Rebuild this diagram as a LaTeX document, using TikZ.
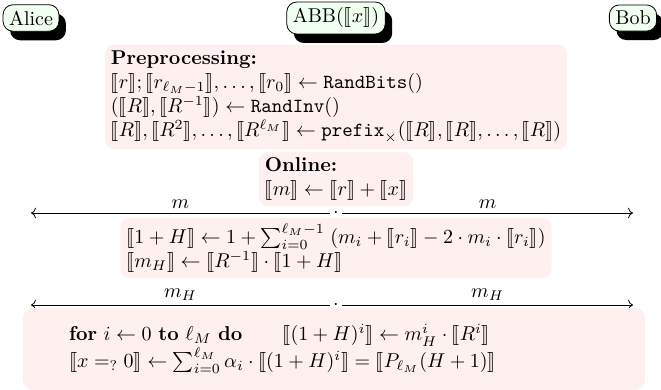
\documentclass[tikz,border=0pt]{standalone}
\usepackage{amsmath,amssymb}
\usepackage{stmaryrd}
\usetikzlibrary{arrows.meta,positioning,shadows}
\newcommand{\shr}[1]{\llbracket #1 \rrbracket}

\begin{document}
\begin{tikzpicture}[
    x=0.5pt, y=-0.5pt,
    >=To,
    party/.style={draw, rounded corners=5pt, fill=green!6, inner sep=3pt,
      drop shadow={fill=black, opacity=1, shadow xshift=3.5pt, shadow yshift=-4.5pt}},
    phase/.style={fill=red!6, rounded corners=5pt, align=left, inner sep=3pt},
    lbl/.style={above, inner sep=2pt}
]
\useasboundingbox (0,0) rectangle (661,390);
\node[party] (alice) at (31,18) {Alice};
\node[party] (abb) at (336,18) {ABB($\shr{x}$)};
\node[party] (bob) at (633,18) {Bob};
\node[phase] (pre) at (336,97) {\textbf{Preprocessing:}\\
  $\shr{r}; \shr{r_{\ell_M-1}}, \ldots, \shr{r_0} \gets \texttt{RandBits}()$\\
  $(\shr{R}, \shr{R^{-1}}) \gets \texttt{RandInv}()$\\
  $\shr{R}, \shr{R^2}, \ldots, \shr{R^{\ell_M}} \gets \texttt{prefix}_\times(\shr{R}, \shr{R}, \ldots, \shr{R})$};
\node[phase] (online) at (336,179) {\textbf{Online:}\\ $\shr{m} \gets \shr{r} + \shr{x}$};
% opening m
\node[inner sep=1.5pt] (dot1) at (336,213) {$\cdot$};
\coordinate (a1) at (dot1 -| alice);
\coordinate (b1) at (dot1 -| bob);
\draw[->] (dot1) -- node[lbl] {$m$} (a1);
\draw[->] (dot1) -- node[lbl] {$m$} (b1);
\node[phase] (hpoly) at (336,248) {$\shr{1+H} \gets 1 + \sum_{i=0}^{\ell_M-1}\; (m_i + \shr{r_i} - 2\cdot m_i \cdot \shr{r_i})$\\
  $\shr{m_H} \gets \shr{R^{-1}} \cdot \shr{1+H}$};
% opening m_H
\node[inner sep=1.5pt] (dot2) at (336,305) {$\cdot$};
\coordinate (a2) at (dot2 -| alice);
\coordinate (b2) at (dot2 -| bob);
\draw[->] (dot2) -- node[lbl] {$m_H$} (a2);
\draw[->] (dot2) -- node[lbl] {$m_H$} (b2);
\node[phase, text width=265pt, inner xsep=23pt, inner ysep=8pt] (eval) at (334,349) {\textbf{for} $i \gets 0$ \textbf{to} $\ell_M$ \textbf{do}\qquad $\shr{(1+H)^i} \gets m_H^i \cdot \shr{R^i}$\\
  $\shr{x =_{?} 0} \gets \sum_{i=0}^{\ell_M} \alpha_i \cdot \shr{(1+H)^i} = \shr{P_{\ell_M}(H+1)}$};
\end{tikzpicture}
\end{document}
